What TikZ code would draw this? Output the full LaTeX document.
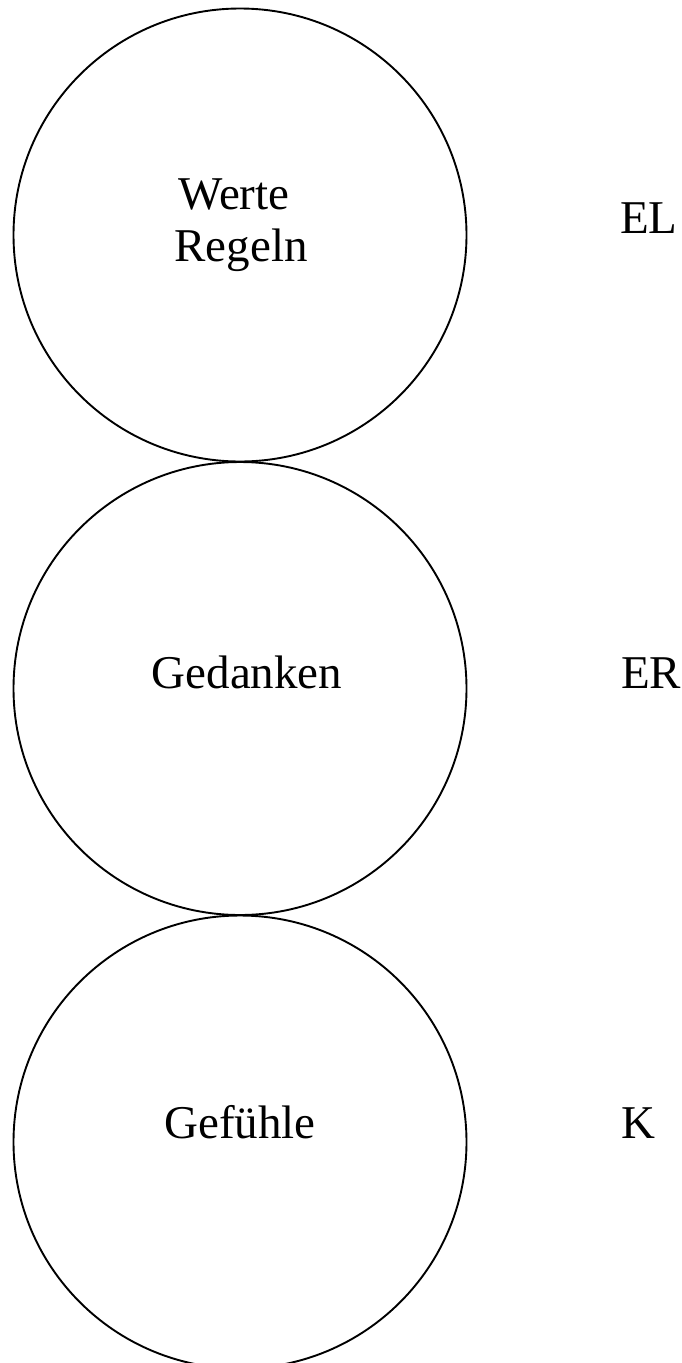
\documentclass[tikz,border=0pt]{standalone}
\usepackage{fontspec}
\setmainfont{Liberation Serif}
\begin{document}
\begin{tikzpicture}[x=1pt,y=-1pt,
  ring/.style={circle,draw=black,line width=1.9pt,minimum size=453pt,inner sep=0pt},
  label/.style={font=\fontsize{47}{54}\selectfont,inner sep=0pt},
  side/.style={label,anchor=base west}]
  \useasboundingbox (0,0) rectangle (682,1363);
  \begin{scope}
    \clip (0,0) rectangle (682,1363);
    \node[ring] (c1) at (240,235) {};
    \node[ring] (c2) at (240,688.5) {};
    \node[ring] (c3) at (240,1142) {};
  \end{scope}
  \node[label,anchor=base] (t1a) at (234,209) {Werte};
  \node[label,anchor=base] (t1b) at (241,261) {Regeln};
  \node[label,anchor=base] (t2) at (247,688) {Gedanken};
  \node[label,anchor=base] (t3) at (240,1138) {Gefühle};
  \node[side] (el) at (620,233) {EL};
  \node[side] (er) at (621,688) {ER};
  \node[side] (k) at (621,1138) {K};
\end{tikzpicture}
\end{document}
